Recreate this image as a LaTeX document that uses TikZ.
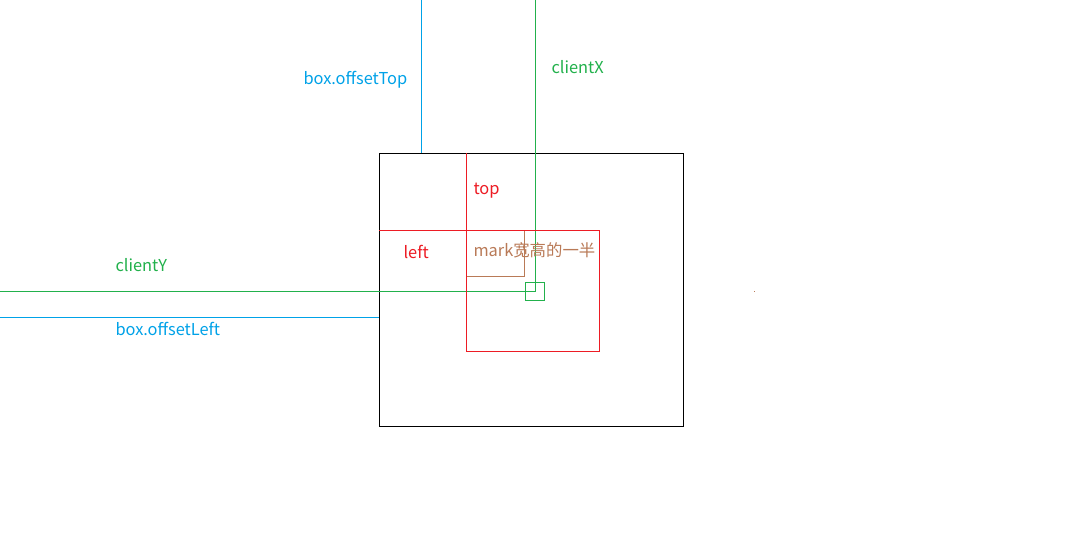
\documentclass[tikz,border=0pt]{standalone}
\usepackage{fontspec}
\setmainfont{Noto Sans CJK SC}
\definecolor{pred}{HTML}{ED1C24}
\definecolor{pgreen}{HTML}{22B14C}
\definecolor{pblue}{HTML}{00A2E8}
\definecolor{pbrown}{HTML}{B97A57}
\begin{document}
\begin{tikzpicture}[x=0.75pt,y=-0.75pt,line width=0.75pt,font=\fontsize{12.3}{14}\selectfont,
  lbl/.style={anchor=west,inner sep=0pt}]
	\useasboundingbox (0,0) rectangle (1080,540);
	\fill[white] (0,0) rectangle (1080,540);
	% box
	\coordinate (boxNW) at (379,153);
	\coordinate (boxSE) at (683,426);
	\draw (boxNW) rectangle (boxSE);
	% offsetTop / offsetLeft
	\draw[pblue] (421.5,0)--(421.5,153);
	\draw[pblue] (0,317.5)--(379,317.5);
	\node[lbl,text=pblue] (offT) at (303,80) {box.offsetTop};
	\node[lbl,text=pblue] (offL) at (115,329) {box.offsetLeft};
	% client
	\coordinate (mouse) at (535.5,291);
	\draw[pgreen] (535.5,0)--(mouse)--(0,291);
	\draw[pgreen] (525,282.5) rectangle (544,300.5);
	\node[lbl,text=pgreen] (cX) at (551,67) {clientX};
	\node[lbl,text=pgreen] (cY) at (115,265) {clientY};
	% top / left
	\draw[pred] (466.5,153)--(466.5,351)--(599.5,351)--(599.5,230.5)--(379,230.5);
	\node[lbl,text=pred] (tp) at (473,190.5) {top};
	\node[lbl,text=pred] (lf) at (403,252) {left};
	% mark
	\draw[pbrown] (466.5,276.5)--(524.5,276.5)--(524.5,230.5);
	\node[lbl,text=pbrown] (mk) at (473,250) {mark宽高的一半};
	\fill[pbrown] (753.5,290.5) rectangle (755,292);
\end{tikzpicture}
\end{document}
